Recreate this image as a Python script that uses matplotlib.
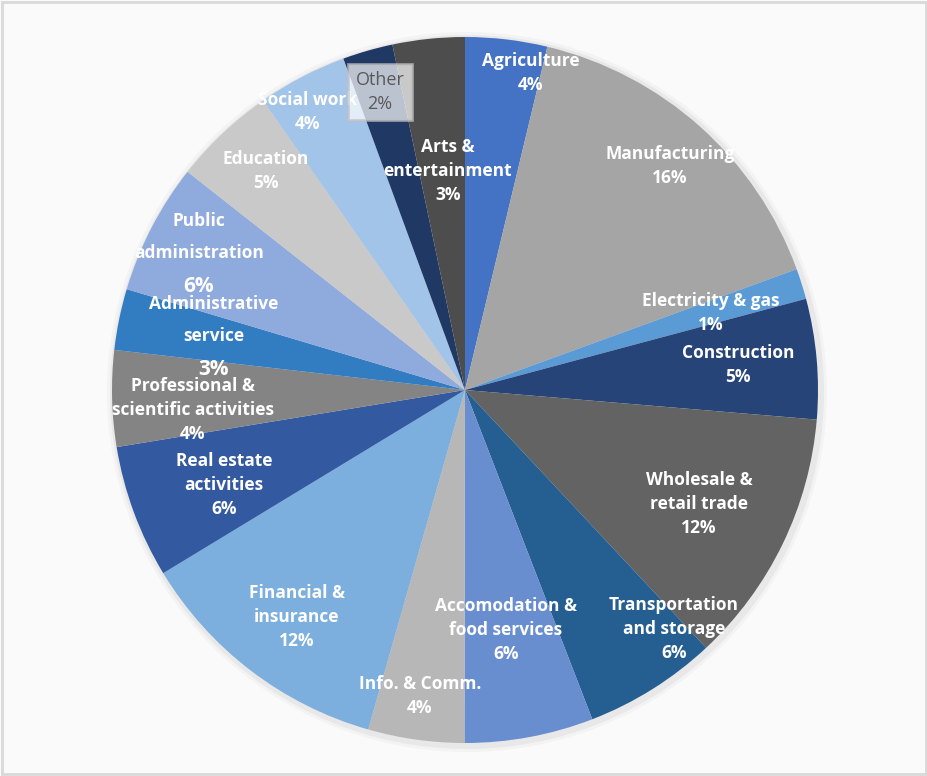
import matplotlib.pyplot as plt
from matplotlib.patches import Rectangle, Circle

# sector shares (%), clockwise from 12 o'clock
sectors = ["Agriculture", "Manufacturing", "Electricity & gas", "Construction",
           "Wholesale & retail trade", "Transportation and storage",
           "Accomodation & food services", "Info. & Comm.", "Financial & insurance",
           "Real estate activities", "Professional & scientific activities",
           "Administrative service", "Public administration", "Education",
           "Social work", "Other", "Arts & entertainment"]
shares = [3.75, 15.7, 1.4, 5.5, 11.7, 6.1, 5.9, 4.4, 11.9, 6.1, 4.4, 2.8, 6.0, 4.7, 4.1, 2.3, 3.3]
pct_labels = ["4%", "16%", "1%", "5%", "12%", "6%", "6%", "4%", "12%", "6%", "4%",
              "3%", "6%", "5%", "4%", "2%", "3%"]
label_names = ["Agriculture", "Manufacturing", "Electricity & gas", "Construction",
               "Wholesale &\nretail trade", "Transportation\nand storage",
               "Accomodation &\nfood services", "Info. & Comm.", "Financial &\ninsurance",
               "Real estate\nactivities", "Professional &\nscientific activities",
               "Administrative\nservice", "Public\nadministration", "Education",
               "Social work", "Other", "Arts &\nentertainment"]
colors = ["#4472C4", "#A5A5A5", "#5B9BD5", "#264478", "#636363", "#255E91",
          "#698ED0", "#B7B7B7", "#7CAFDD", "#335AA1", "#848484", "#327DC2",
          "#8FAADC", "#C9C9C9", "#A2C4E8", "#203864", "#4D4D4D"]

# label anchor points (pixel coords measured from the top-left of the canvas)
label_pos = [(531, 73), (670, 166), (711, 313), (738, 365), (699, 504), (674, 629),
             (506, 630), (420, 696), (297, 617), (224, 485), (193, 410), (214, 320),
             (199, 237), (266, 171), (308, 112), (380, 92), (448, 171)]

W, H = 928, 776
fig = plt.figure(figsize=(9.28, 7.76), dpi=100)
fig.patch.set_facecolor("#FAFAFA")
ax = fig.add_axes([0, 0, 1, 1])

# soft shadow behind the pie
for r, a in [(360, 0.07), (357, 0.12)]:
    ax.add_patch(Circle((467, H - 392), r, color="#9E9E9E", alpha=a, lw=0))

ax.pie(shares, colors=colors, startangle=90, counterclock=False,
       center=(465, H - 390), radius=353, frame=True,
       wedgeprops=dict(linewidth=0))
ax.set_xlim(0, W)
ax.set_ylim(0, H)
ax.set_aspect("equal")
ax.axis("off")

# chart frame
ax.add_patch(Rectangle((2, 2), W - 4, H - 4, fill=False, edgecolor="#D9D9D9", lw=2))

font = "Open Sans"
for i, (name, pct) in enumerate(zip(label_names, pct_labels)):
    x, y = label_pos[i]
    y = H - y
    if name == "Other":
        ax.text(x, y, name + "\n" + pct, ha="center", va="center", fontsize=13,
                color="#595959", family=font, linespacing=1.45,
                bbox=dict(boxstyle="square,pad=0.4", fc="white", ec="#BFBFBF",
                          alpha=0.7, lw=2))
    elif name in ("Administrative\nservice", "Public\nadministration"):
        ax.text(x, y, name, ha="center", va="center", fontsize=12.5,
                color="white", weight="bold", family=font, linespacing=2.0)
        ax.text(x, y - 50, pct, ha="center", va="center", fontsize=15,
                color="white", weight="bold", family=font)
    else:
        ax.text(x, y, name + "\n" + pct, ha="center", va="center", fontsize=12.5,
                color="white", weight="bold", family=font, linespacing=1.45)

fig.savefig("out.png", dpi=100, facecolor=fig.get_facecolor())
